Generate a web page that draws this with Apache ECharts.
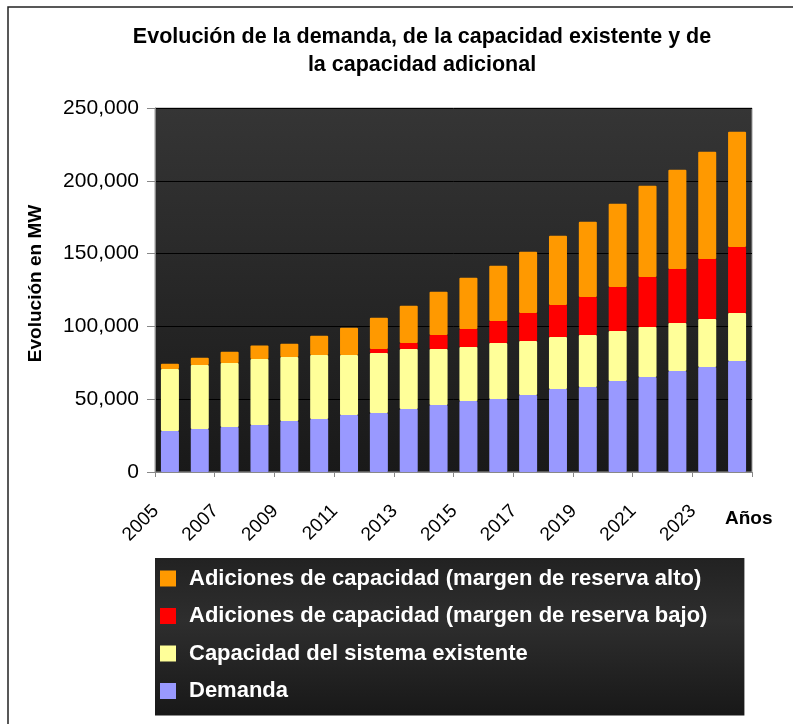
<!DOCTYPE html>
<html>
<head>
<meta charset="utf-8">
<script src="https://cdn.jsdelivr.net/npm/echarts@6/dist/echarts.min.js"></script>
<style>
  html, body { margin: 0; padding: 0; background: #fff; }
  #chart { width: 793px; height: 724px; }
</style>
</head>
<body>
<div id="chart"></div>
<script>
// años del eje x
var years = ['2005', '2006', '2007', '2008', '2009', '2010', '2011', '2012', '2013', '2014',
  '2015', '2016', '2017', '2018', '2019', '2020', '2021', '2022', '2023', '2024']

// MW
var demanda = [28200, 29500, 30900, 32300, 35000, 36400, 39100, 40500, 43300, 46000,
  48800, 50100, 52900, 57000, 58400, 62500, 65200, 69400, 72100, 76200]
var existente = [42500, 44000, 44000, 45300, 44000, 44000, 41300, 41200, 41200, 38500,
  37000, 38500, 37100, 35700, 35700, 34300, 34400, 32900, 33000, 33000]
var reservaBajo = [0, 0, 0, 0, 0, 0, 0, 2800, 4100, 9600,
  12400, 15100, 19200, 22000, 26100, 30300, 34300, 37100, 41200, 45300]
var reservaAlto = [3700, 5000, 7700, 9200, 9100, 13200, 18700, 21500, 25600, 29700,
  35200, 38000, 42100, 47600, 51700, 57200, 62700, 68200, 73700, 79200]

var yTicks = [0, 50000, 100000, 150000, 200000, 250000]

var names = {
  alto: 'Adiciones de capacidad (margen de reserva alto)',
  bajo: 'Adiciones de capacidad (margen de reserva bajo)',
  existente: 'Capacidad del sistema existente',
  demanda: 'Demanda'
}

var font = '"Liberation Sans", Arial, sans-serif'
var chart = echarts.init(document.getElementById('chart'))

function barSerie(name, data, color) {
  return {
    name: name,
    type: 'bar',
    stack: 'total',
    barWidth: 18,
    data: data,
    itemStyle: { color: color, borderRadius: 1 }
  }
}

chart.setOption({
  animation: false,
  textStyle: { fontFamily: font },
  title: {
    text: 'Evolución de la demanda, de la capacidad existente y de\nla capacidad adicional',
    left: 417,
    top: 18,
    textAlign: 'center',
    textStyle: { fontSize: 21.5, fontWeight: 'bold', color: '#000', lineHeight: 28 }
  },
  grid: {
    left: 155,
    right: 41,
    top: 108,
    bottom: 252,
    show: true,
    borderColor: '#9a9a9a',
    borderWidth: 1,
    backgroundColor: new echarts.graphic.LinearGradient(0, 0, 0, 1, [
      { offset: 0, color: '#353535' },
      { offset: 1, color: '#191919' }
    ])
  },
  legend: {
    orient: 'vertical',
    left: 155,
    top: 558,
    padding: [9, 37, 13, 5],
    itemWidth: 16,
    itemHeight: 16,
    itemGap: 14.5,
    icon: 'rect',
    backgroundColor: new echarts.graphic.LinearGradient(0, 0, 0, 1, [
      { offset: 0, color: '#222222' },
      { offset: 0.4, color: '#2e2e2e' },
      { offset: 1, color: '#181818' }
    ]),
    data: [names.alto, names.bajo, names.existente, names.demanda],
    textStyle: {
      color: '#fff', fontSize: 22, fontWeight: 'bold',
      lineHeight: 23, padding: [0, 0, 0, 8]
    }
  },
  xAxis: {
    type: 'category',
    data: years,
    axisLine: { lineStyle: { color: '#888', width: 1 } },
    axisTick: { show: true, length: 5, lineStyle: { color: '#888' } },
    axisLabel: {
      interval: 1, rotate: 45, fontSize: 19, color: '#000',
      margin: 22, padding: [0, 20, 0, 0]
    }
  },
  yAxis: {
    type: 'value',
    min: yTicks[0],
    max: yTicks[yTicks.length - 1],
    interval: 50000,
    name: 'Evolución en MW',
    nameLocation: 'middle',
    nameGap: 110,
    nameTextStyle: { fontSize: 19, fontWeight: 'bold', color: '#000', padding: [0, 0, 0, 13] },
    axisLine: { show: true, lineStyle: { color: '#888' } },
    axisTick: { show: true, length: 8, lineStyle: { color: '#888' } },
    axisLabel: {
      fontSize: 21,
      color: '#000',
      margin: 16,
      formatter: function (v) { return v.toLocaleString('en-US') }
    },
    splitLine: { lineStyle: { color: '#000', width: 1 } }
  },
  graphic: [
    {
      type: 'rect',
      silent: true,
      shape: { x: 8, y: 7, width: 900, height: 900 },
      style: { fill: 'none', stroke: '#222', lineWidth: 1.5 }
    },
    {
      type: 'text',
      left: 725,
      top: 509,
      style: { text: 'Años', fontSize: 19, fontWeight: 'bold', fill: '#000', fontFamily: font }
    }
  ],
  series: [
    barSerie(names.demanda, demanda, '#9999ff'),
    barSerie(names.existente, existente, '#ffff99'),
    barSerie(names.bajo, reservaBajo, '#ff0000'),
    barSerie(names.alto, reservaAlto, '#ff9900')
  ]
})
</script>
</body>
</html>
